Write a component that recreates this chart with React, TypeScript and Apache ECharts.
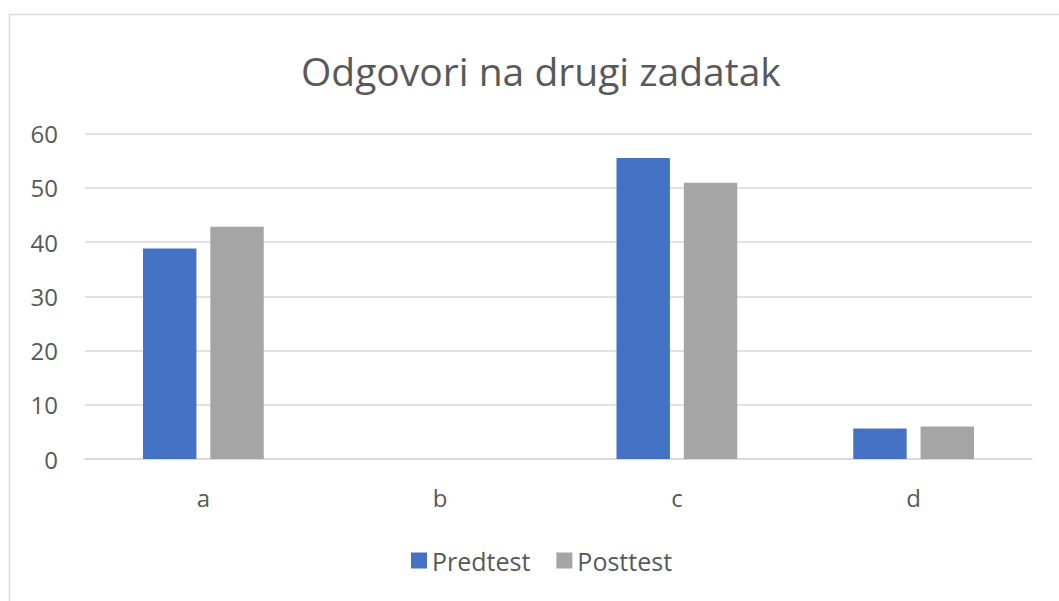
import React, { useEffect, useRef } from "react";
import * as echarts from "echarts";

const categories = ["a", "b", "c", "d"];
const predtest = [38.8, 0, 55.5, 5.6];
const posttest = [42.8, 0, 50.9, 6.0];
const seriesNames = ["Predtest", "Posttest"];
const titleText = "Odgovori na drugi zadatak";

export default function App() {
  const ref = useRef<HTMLDivElement>(null);
  useEffect(() => {
    if (!ref.current) return;
    const chart = echarts.init(ref.current, null, { renderer: "svg" });
    const font = "'Open Sans', sans-serif";
    chart.setOption({
      animation: false,
      backgroundColor: "#ffffff",
      title: {
        text: titleText,
        left: 296,
        top: 46,
        textStyle: { fontFamily: font, fontSize: 39, fontWeight: "normal", color: "#595959" },
      },
      graphic: [
        {
          type: "rect",
          shape: { x: 9.5, y: 14.5, width: 1200, height: 800 },
          style: { fill: "none", stroke: "#d9d9d9", lineWidth: 1.5 },
          silent: true,
        },
      ],
      legend: {
        data: seriesNames,
        top: 543,
        left: 406,
        itemWidth: 16,
        itemHeight: 16,
        itemGap: 26,
        icon: "rect",
        textStyle: { fontFamily: font, fontSize: 25, color: "#595959" },
      },
      grid: { left: 85, right: 27, top: 133.5, bottom: 142, containLabel: false },
      xAxis: {
        type: "category",
        data: categories,
        axisLine: { lineStyle: { color: "#d9d9d9", width: 1.5 } },
        axisTick: { show: false },
        axisLabel: { fontFamily: font, fontSize: 24, color: "#595959", margin: 26 },
      },
      yAxis: {
        type: "value",
        min: 0,
        max: 60,
        interval: 10,
        axisLine: { show: false },
        axisTick: { show: false },
        splitLine: { lineStyle: { color: "#d9d9d9", width: 1.5 } },
        axisLabel: { fontFamily: font, fontSize: 24, color: "#595959", margin: 27 },
      },
      series: [
        {
          name: seriesNames[0],
          type: "bar",
          data: predtest,
          barGap: "26%",
          barCategoryGap: "49%",
          itemStyle: { color: "#4472c4" },
        },
        {
          name: seriesNames[1],
          type: "bar",
          data: posttest,
          barGap: "26%",
          barCategoryGap: "49%",
          itemStyle: { color: "#a5a5a5" },
        },
      ],
    });
    return () => chart.dispose();
  }, []);
  return (
    <div
      ref={ref}
      style={{ position: "fixed", left: 0, top: 0, width: 1059, height: 601 }}
    />
  );
}
